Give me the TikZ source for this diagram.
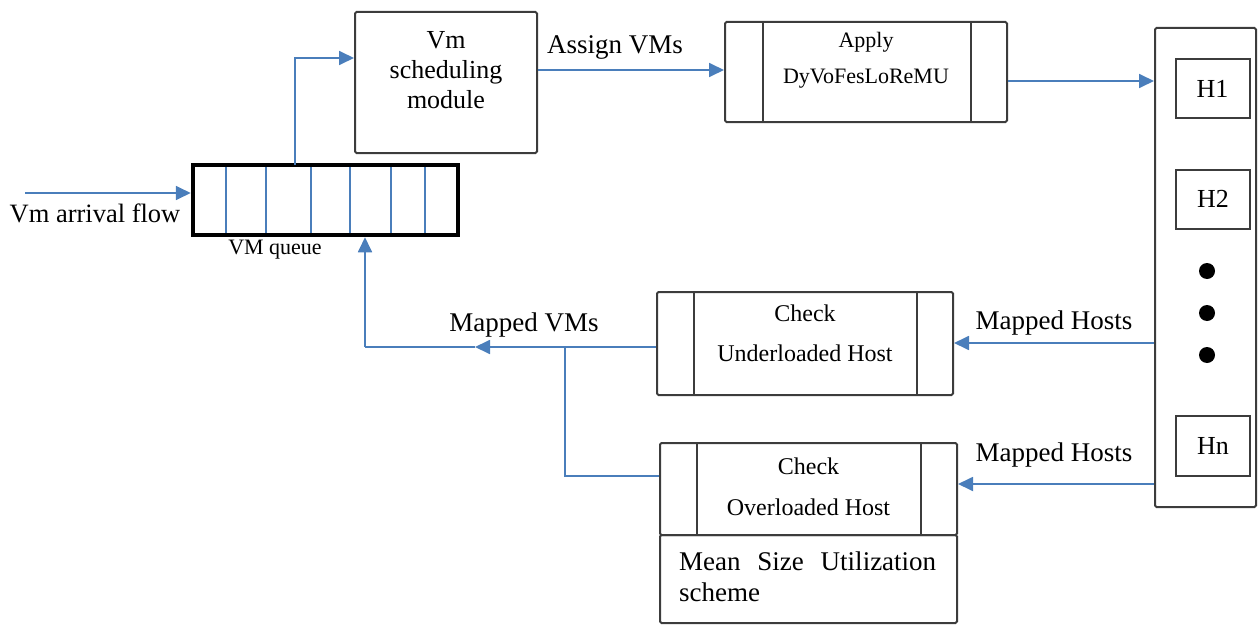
\documentclass[tikz,border=0pt]{standalone}
\usepackage{fontspec}
\setmainfont{Liberation Serif}
\usetikzlibrary{arrows.meta}
\definecolor{flowblue}{RGB}{74,126,187}
\definecolor{boxgray}{RGB}{60,60,60}
\tikzset{
  box/.style={draw=boxgray,line width=2pt,rounded corners=1.5pt,minimum width=#1,inner sep=0pt},
  flowline/.style={draw=flowblue,line width=1.8pt},
  flow/.style={flowline,-{Triangle[length=15pt,width=14pt]}},
  lbl/.style={font=\fontsize{27}{30}\selectfont,inner sep=0pt},
  boxtxt/.style={font=\fontsize{25}{40}\selectfont,align=center,inner sep=0pt},
  hostbox/.style={draw=boxgray,line width=2pt,minimum width=74pt,minimum height=59pt,inner sep=0pt,font=\fontsize{26}{30}\selectfont},
  dot/.style={circle,fill=black,minimum size=16pt,inner sep=0pt}
}
\begin{document}
\begin{tikzpicture}[x=1pt,y=-1pt]
\useasboundingbox (0,0) rectangle (1258,626);
% queue
\node[draw=black,line width=4.5pt,minimum width=265pt,minimum height=70pt,inner sep=0pt] (queue) at (325.5,200) {};
\foreach \qx in {226,266,311,350,391,425}
  \draw[flowline,line width=1.6pt] (\qx,167) -- (\qx,233);
\node[lbl,font=\fontsize{22}{26}\selectfont] (qlabel) at (275,250) {VM queue};
% arrival
\coordinate (arrin) at (25,193);
\draw[flow] (arrin) -- (arrin -| queue.west);
\node[lbl,font=\fontsize{26.5}{30}\selectfont] (arrlabel) at (95,213) {Vm arrival flow};
% scheduling module
\node[box=182pt,minimum height=141pt] (sched) at (446,82.5) {};
\node[boxtxt,font=\fontsize{26}{30}\selectfont] (schedtxt) at (446,70) {Vm\\scheduling\\module};
\coordinate (qtop) at (295,165);
\draw[flow] (qtop) |- (sched.west |- 0,58);
% apply
\node[box=282pt,minimum height=100pt] (apply) at (866,72) {};
\draw[boxgray,line width=2pt] (763,22) -- (763,122) (971,22) -- (971,122);
\node[boxtxt,font=\fontsize{22}{36}\selectfont] (applytxt) at (866,60) {Apply\\DyVoFesLoReMU};
\draw[flow] (sched.east |- 0,70) -- (apply.west |- 0,70);
\node[lbl] (assign) at (615,47) {Assign VMs};
% hosts column
\node[box=101pt,minimum height=479pt] (hosts) at (1205.5,267.5) {};
\node[hostbox] (h1) at (1212.5,88.5) {H1};
\node[hostbox] (h2) at (1213,199) {H2};
\node[dot] (d1) at (1207,271) {};
\node[dot] (d2) at (1207,313) {};
\node[dot] (d3) at (1207,355) {};
\node[hostbox,minimum height=60pt] (hn) at (1213,446) {Hn};
\draw[flow] (apply.east |- 0,81) -- (hosts.west |- 0,81);
% check underloaded
\node[box=296pt,minimum height=103pt] (under) at (805,343.5) {};
\draw[boxgray,line width=2pt] (694,292) -- (694,395) (917,292) -- (917,395);
\node[boxtxt,font=\fontsize{24}{40}\selectfont] (undertxt) at (805,333) {Check\\Underloaded Host};
% check overloaded
\node[box=297pt,minimum height=92pt] (over) at (808.5,489) {};
\draw[boxgray,line width=2pt] (697,443) -- (697,535) (921,443) -- (921,535);
\node[boxtxt,font=\fontsize{24}{41}\selectfont] (overtxt) at (808.5,487) {Check\\Overloaded Host};
\node[box=297pt,minimum height=88pt] (mean) at (808.5,579) {};
\node[font=\fontsize{27}{31}\selectfont,inner sep=0pt,anchor=west,align=left] (meantxt) at (679,577) {\hbox to 257pt{Mean\hfil Size\hfil Utilization}\\scheme};
% mapped hosts
\draw[flow] (hosts.west |- 0,343) -- (under.east |- 0,343);
\node[lbl] (mh1) at (1054,323) {Mapped Hosts};
\draw[flow] (hosts.west |- 0,484) -- (over.east |- 0,484);
\node[lbl] (mh2) at (1054,455) {Mapped Hosts};
% mapped VMs
\coordinate (mvtip) at (475,347);
\coordinate (mvcorner) at (365,347);
\coordinate (branch) at (565,347);
\coordinate (branchlow) at (565,476);
\draw[flow] (under.west |- 0,347) -- (mvtip);
\draw[flowline] (mvtip) -- (mvcorner);
\draw[flow] (mvcorner) -- (mvcorner |- queue.south);
\draw[flowline] (branch) -- (branchlow) -- (branchlow -| over.west);
\node[lbl] (mvlabel) at (524,325) {Mapped VMs};
\end{tikzpicture}
\end{document}
